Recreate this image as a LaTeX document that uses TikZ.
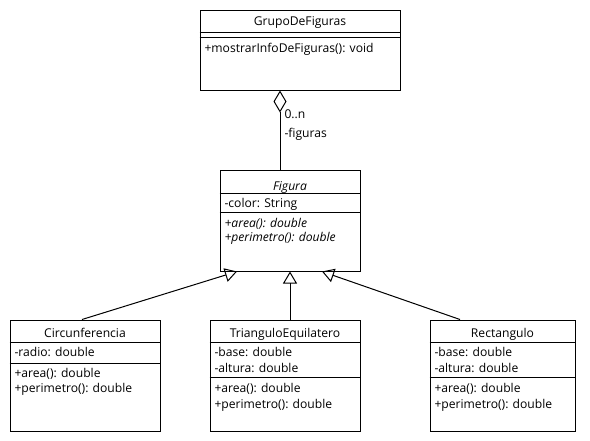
\documentclass[tikz,border=0pt]{standalone}
\usepackage{fontspec}
\setmainfont{Open Sans}
\usepackage{tikz}
\usetikzlibrary{arrows.meta,positioning,calc}

\begin{document}
\begin{tikzpicture}[x=0.75pt,y=-0.75pt,line width=0.75pt,
  caja/.style 2 args={draw,rectangle,inner sep=0,minimum width=#1*0.75pt,minimum height=#2*0.75pt},
  tit/.style={anchor=base,inner sep=0,font=\fontsize{9.1}{11}\selectfont},
  txt/.style={anchor=base west,inner sep=0,font=\fontsize{9.1}{11}\selectfont},
  gener/.style={-{Triangle[open,length=9pt,width=10.5pt]}},
  agreg/.style={-{Diamond[open,length=16.5pt,width=9.75pt]}}]
\fill[white] (0,0) rectangle (590,440);
\useasboundingbox (0,0) rectangle (590,440);

\node[caja={200}{80}] (grupo) at (300,50) {};
\draw (grupo.west |- 0,32) -- (grupo.east |- 0,32);
\draw (grupo.west |- 0,37) -- (grupo.east |- 0,37);
\node[tit] (grupo-t) at (300,25) {GrupoDeFiguras};
\node[txt] (grupo-m1) at (204,52) {+mostrarInfoDeFiguras(): void};

\node[caja={140}{101}] (figura) at (290,220.5) {};
\draw (figura.west |- 0,193) -- (figura.east |- 0,193);
\draw (figura.west |- 0,212) -- (figura.east |- 0,212);
\node[tit] (figura-t) at (290,190) {\itshape Figura};
\node[txt] (figura-a1) at (224,207) {-color: String};
\node[txt] (figura-m1) at (224,227) {\itshape +area(): double};
\node[txt] (figura-m2) at (224,241) {\itshape +perimetro(): double};

\node[caja={150}{111}] (circ) at (85,375.5) {};
\draw (circ.west |- 0,342) -- (circ.east |- 0,342);
\draw (circ.west |- 0,363) -- (circ.east |- 0,363);
\node[tit] (circ-t) at (85,337) {Circunferencia};
\node[txt] (circ-a1) at (14,356) {-radio: double};
\node[txt] (circ-m1) at (14,377) {+area(): double};
\node[txt] (circ-m2) at (14,392) {+perimetro(): double};

\node[caja={150}{111}] (tri) at (285,375.5) {};
\draw (tri.west |- 0,342) -- (tri.east |- 0,342);
\draw (tri.west |- 0,377) -- (tri.east |- 0,377);
\node[tit] (tri-t) at (285,337) {TrianguloEquilatero};
\node[txt] (tri-a1) at (214,356) {-base: double};
\node[txt] (tri-a2) at (214,372) {-altura: double};
\node[txt] (tri-m1) at (214,392) {+area(): double};
\node[txt] (tri-m2) at (214,408) {+perimetro(): double};

\node[caja={145}{111}] (rect) at (502.5,375.5) {};
\draw (rect.west |- 0,342) -- (rect.east |- 0,342);
\draw (rect.west |- 0,377) -- (rect.east |- 0,377);
\node[tit] (rect-t) at (502.5,337) {Rectangulo};
\node[txt] (rect-a1) at (434,356) {-base: double};
\node[txt] (rect-a2) at (434,372) {-altura: double};
\node[txt] (rect-m1) at (434,392) {+area(): double};
\node[txt] (rect-m2) at (434,408) {+perimetro(): double};

\draw[agreg] (figura.north -| 280,0) -- (grupo.south -| 280,0);
\node[txt] (mult) at (284,118) {0..n};
\node[txt] (rol) at (284,137) {-figuras};

\draw[gener] (circ.north -| 82,0) -- (figura.south -| 237,0);
\draw[gener] (tri.north -| figura.south) -- (figura.south);
\draw[gener] (rect.north -| 460,0) -- (figura.south -| 322,0);
\end{tikzpicture}
\end{document}
